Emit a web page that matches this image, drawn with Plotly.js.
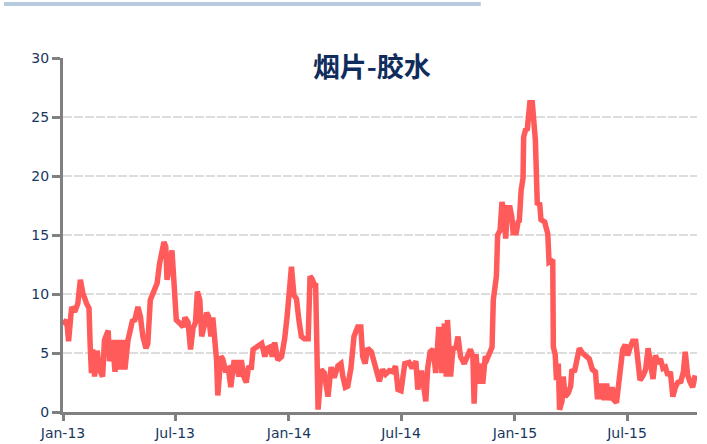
<!DOCTYPE html>
<html>
<head>
<meta charset="utf-8">
<script src="https://cdn.plot.ly/plotly-3.0.1.min.js"></script>
<style>
html,body{margin:0;padding:0;background:#fff;}
#chart{width:707px;height:444px;}
</style>
</head>
<body>
<div id="chart"></div>
<script>
const chartTitle = "烟片-胶水";
const dates = [
"2013-01-01","2013-01-07","2013-01-10","2013-01-15","2013-01-20","2013-01-25","2013-01-29","2013-02-02","2013-02-08","2013-02-12",
"2013-02-14","2013-02-16","2013-02-18","2013-02-21","2013-02-25","2013-03-01","2013-03-06","2013-03-09","2013-03-15","2013-03-17",
"2013-03-22","2013-03-26","2013-03-29","2013-04-03","2013-04-07","2013-04-11","2013-04-16","2013-04-19","2013-04-23","2013-04-27",
"2013-05-02","2013-05-06","2013-05-10","2013-05-15","2013-05-18","2013-05-22","2013-05-29","2013-06-02","2013-06-06","2013-06-13",
"2013-06-16","2013-06-18","2013-06-22","2013-06-26","2013-06-29","2013-07-03","2013-07-09","2013-07-14","2013-07-17","2013-07-22",
"2013-07-26","2013-07-30","2013-08-03","2013-08-06","2013-08-10","2013-08-13","2013-08-17","2013-08-21","2013-08-24","2013-08-28",
"2013-08-31","2013-09-04","2013-09-06","2013-09-08","2013-09-13","2013-09-16","2013-09-20","2013-09-25","2013-09-29","2013-10-04",
"2013-10-08","2013-10-12","2013-10-16","2013-10-20","2013-10-24","2013-10-28","2013-11-01","2013-11-04","2013-11-09","2013-11-15",
"2013-11-18","2013-11-23","2013-11-27","2013-12-01","2013-12-05","2013-12-09","2013-12-14","2013-12-20","2013-12-25","2013-12-29",
"2014-01-02","2014-01-05","2014-01-09","2014-01-13","2014-01-17","2014-01-21","2014-01-26","2014-02-01","2014-02-04","2014-02-07",
"2014-02-11","2014-02-13","2014-02-17","2014-02-22","2014-02-27","2014-03-05","2014-03-10","2014-03-15","2014-03-21","2014-03-26",
"2014-03-29","2014-04-02","2014-04-06","2014-04-11","2014-04-16","2014-04-22","2014-04-27","2014-04-30","2014-05-04","2014-05-08",
"2014-05-14","2014-05-17","2014-05-22","2014-05-27","2014-06-01","2014-06-06","2014-06-12","2014-06-18","2014-06-22","2014-06-26",
"2014-07-01","2014-07-07","2014-07-14","2014-07-19","2014-07-25","2014-07-28","2014-08-03","2014-08-06","2014-08-10","2014-08-13",
"2014-08-17","2014-08-22","2014-08-26","2014-08-31","2014-09-05","2014-09-09","2014-09-12","2014-09-14","2014-09-19","2014-09-23",
"2014-09-27","2014-10-01","2014-10-05","2014-10-11","2014-10-16","2014-10-21","2014-10-25","2014-10-27","2014-10-30","2014-11-03",
"2014-11-07","2014-11-10","2014-11-14","2014-11-17","2014-11-21","2014-11-25","2014-11-27","2014-12-02","2014-12-04","2014-12-08",
"2014-12-11","2014-12-13","2014-12-17","2014-12-20","2014-12-24","2014-12-27","2014-12-29","2015-01-03","2015-01-06","2015-01-08",
"2015-01-11","2015-01-14","2015-01-15","2015-01-18","2015-01-21","2015-01-22","2015-01-25","2015-01-29","2015-01-31","2015-02-03",
"2015-02-06","2015-02-10","2015-02-12","2015-02-18","2015-02-23","2015-02-25","2015-03-03","2015-03-04","2015-03-07","2015-03-09",
"2015-03-12","2015-03-14","2015-03-18","2015-03-20","2015-03-23","2015-03-28","2015-04-01","2015-04-03","2015-04-07","2015-04-10",
"2015-04-15","2015-04-20","2015-04-26","2015-05-01","2015-05-06","2015-05-11","2015-05-14","2015-05-18","2015-05-21","2015-05-25",
"2015-05-29","2015-06-02","2015-06-07","2015-06-10","2015-06-14","2015-06-17","2015-06-21","2015-06-24","2015-06-28","2015-07-02",
"2015-07-06","2015-07-10","2015-07-15","2015-07-18","2015-07-22","2015-07-27","2015-07-31","2015-08-04","2015-08-08","2015-08-12",
"2015-08-16","2015-08-20","2015-08-24","2015-08-28","2015-09-01","2015-09-05","2015-09-09","2015-09-13","2015-09-17","2015-09-21",
"2015-09-26","2015-09-30","2015-10-03","2015-10-07","2015-10-11","2015-10-15","2015-10-19"
];
const spread = [
7.4,7.8,6.0,8.9,8.5,9.2,11.2,10.1,9.2,8.8,
5.5,3.3,5.3,3.0,5.2,3.6,3.0,6.1,6.9,4.3,
6.1,3.4,6.1,3.6,6.1,3.6,6.1,6.9,7.7,7.8,
8.9,8.1,6.4,5.4,5.8,9.5,10.3,10.9,12.6,14.4,
14.0,11.2,12.3,13.7,11.2,7.8,7.5,7.2,8.0,7.6,
5.3,7.1,7.6,10.2,9.5,6.4,7.3,8.4,8.1,6.4,
8.0,6.1,4.4,1.4,4.7,4.5,3.6,3.7,2.1,4.2,
4.2,3.0,4.4,3.0,2.5,3.9,3.6,5.3,5.5,5.7,
5.8,4.7,5.4,5.5,4.7,5.9,4.4,4.7,6.2,8.1,
10.3,12.3,9.9,9.6,7.8,6.4,6.2,6.2,11.5,11.3,
10.8,10.9,0.2,3.6,3.3,1.3,3.8,2.9,3.9,4.1,
3.0,2.1,2.2,3.7,6.4,7.2,7.2,4.7,4.1,5.4,
5.1,4.5,3.6,2.6,3.6,3.2,3.5,3.4,3.9,1.9,
1.8,4.1,4.2,3.7,4.3,1.9,3.5,1.9,0.9,3.7,
5.1,5.3,3.3,7.2,3.3,7.5,3.0,7.8,3.0,5.5,
5.3,6.4,4.7,4.1,4.8,5.3,4.7,0.7,4.9,2.4,
4.1,2.4,4.7,4.5,5.0,5.5,9.5,11.5,15.0,15.4,
17.8,17.3,14.7,17.3,17.3,16.5,15.2,15.2,16.1,16.2,
18.8,19.8,23.3,23.9,24.0,25.2,26.2,26.2,25.3,23.0,
17.7,17.6,16.3,16.1,15.1,12.7,12.9,5.5,4.9,2.7,
4.1,0.2,0.9,3.0,1.3,1.6,2.2,3.6,3.4,4.4,
5.4,5.0,4.8,4.5,3.6,3.4,1.3,1.3,2.4,1.0,
2.4,1.0,2.1,1.0,0.8,2.5,3.9,5.3,5.7,4.8,
5.5,6.0,6.0,4.5,2.7,3.1,3.6,5.4,4.1,2.8,
4.8,4.1,4.5,3.7,3.8,3.1,3.4,1.3,2.1,2.5,
2.6,3.4,5.1,3.1,2.5,2.1,3.1
];
const yTicks = [0,5,10,15,20,25,30];

const labelFont = {family: "DejaVu Sans, Lato, sans-serif", size: 14, color: "#17375E"};

const trace = {
  x: dates, y: spread, type: "scatter", mode: "lines",
  line: {color: "#FF5B5B", width: 5.5},
  hoverinfo: "skip"
};

const layout = {
  width: 707, height: 444,
  margin: {l: 63, r: 10, t: 58, b: 32},
  paper_bgcolor: "#fff", plot_bgcolor: "#fff",
  showlegend: false,
  title: {
    text: "<b>" + chartTitle + "</b>",
    font: {family: "Noto Sans CJK SC, sans-serif", size: 27, color: "#0F2D5C"},
    x: 0.526, xanchor: "center", xref: "container",
    y: 0.848, yanchor: "middle", yref: "container"
  },
  xaxis: {
    type: "date",
    range: ["2013-01-01", "2015-10-22"],
    tick0: "2013-01-01", dtick: "M6", tickformat: "%b-%y",
    showgrid: false, zeroline: false,
    showline: true, linecolor: "#808080", linewidth: 3,
    ticks: "outside", ticklen: 6, tickwidth: 3, tickcolor: "#808080",
    tickfont: labelFont, fixedrange: true
  },
  yaxis: {
    range: [0, 30], tickvals: yTicks,
    showgrid: true, gridcolor: "#DDDDDD", gridwidth: 2.5, griddash: "9px,2px",
    zeroline: false,
    showline: true, linecolor: "#808080", linewidth: 3,
    ticks: "outside", ticklen: 8, tickwidth: 3, tickcolor: "#808080",
    tickfont: labelFont, fixedrange: true
  },
  shapes: [{
    type: "rect", xref: "paper", yref: "paper",
    x0: -0.093, x1: 0.659, y0: 1.147, y1: 1.158,
    fillcolor: "#B7C9DC", line: {width: 0}
  }]
};

Plotly.newPlot("chart", [trace], layout, {displayModeBar: false, staticPlot: true});
</script>
</body>
</html>
